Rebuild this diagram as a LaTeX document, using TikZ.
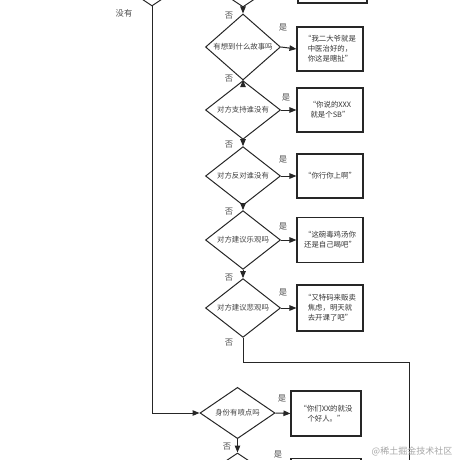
\documentclass[tikz,border=0pt]{standalone}
\usepackage{fontspec}
\setmainfont{Noto Sans CJK SC}
\usetikzlibrary{shapes.geometric,arrows.meta}
\begin{document}
\begin{tikzpicture}[x=1pt,y=-1pt,
  dec/.style={draw=black!85, line width=1pt, shape=diamond, minimum width=75pt, minimum height=50pt, inner sep=0pt, text=black!75, font=\fontsize{7.4}{9}\selectfont},
  outbox/.style={draw=black!85, line width=1.1pt, minimum width=66pt, minimum height=44pt, inner sep=1pt, align=center, text=black!80, font=\fontsize{7.4}{10}\selectfont},
  conn/.style={draw=black!85, line width=1pt},
  arr/.style={conn, -{Triangle[length=7pt,width=5.5pt]}},
  lbl/.style={text=black!70, font=\fontsize{8.3}{9}\selectfont, inner sep=0pt},
  wm/.style={text=black!35, font=\fontsize{9}{10}\selectfont, inner sep=0pt}]
\useasboundingbox (0,0) rectangle (460,460);
\clip (0,0) rectangle (460,460);

% decisions
\node[dec] (DL) at (152,-19) {};
\node[dec] (D0) at (243,-18) {};
\node[dec] (D1) at (243,47) {有想到什么故事吗};
\node[dec] (D2) at (243,110) {对方支持谁没有};
\node[dec] (D3) at (243,176) {对方反对谁没有};
\node[dec] (D4) at (243,240) {对方建议乐观吗};
\node[dec] (D5) at (243,308) {对方建议悲观吗};
\node[dec] (D6) at (237.5,413) {身份有喷点吗};
\node[dec] (D7) at (237.5,478) {};

% outputs
\node[outbox, minimum width=69pt] (B0) at (332.5,-19) {};
\node[outbox] (B1) at (330,49) {“我二大爷就是\\中医治好的，\\你这是瞎扯”};
\node[outbox] (B2) at (330,110) {“你说的XXX\\就是个SB”};
\node[outbox] (B3) at (330,176) {“你行你上啊”};
\node[outbox, minimum height=45pt] (B4) at (330,240) {“这碗毒鸡汤你\\还是自己喝吧”};
\node[outbox, minimum height=46pt] (B5) at (330,308) {“又特码来贩卖\\焦虑，明天就\\去开课了吧”};
\node[outbox, minimum width=70pt, minimum height=45pt] (B6) at (326,413.5) {“你们XX的就没\\个好人。”};
\node[outbox, minimum width=70pt, minimum height=45pt] (B7) at (326,481) {};

% yes arrows
\foreach \i in {1,...,7} {\draw[arr] (D\i.east) -- (B\i.west);}
% no arrows
\draw[arr] (D0.south) -- (D1.north);
\draw[arr] (D1.south) -- (D2.north);
\draw[arr] (D2.south) -- (D3.north);
\draw[arr] (D3.south) -- (D4.north);
\draw[arr] (D4.south) -- (D5.north);
\draw[arr] (D6.south) -- (D7.north);
\coordinate (cR) at (409,362);
\coordinate (cEnd) at (409,470);
\draw[conn] (D5.south) |- (cR) -- (cEnd);
\draw[arr] (DL.south) |- (D6.west);

% labels
\node[lbl] (lNo0) at (124,13) {没有};
\node[lbl] (n0) at (229,16) {否};
\node[lbl] (n1) at (229,79) {否};
\node[lbl] (n2) at (229,145) {否};
\node[lbl] (n3) at (229,212) {否};
\node[lbl] (n4) at (229,278) {否};
\node[lbl] (n5) at (229,343) {否};
\node[lbl] (n6) at (227,447) {否};
\node[lbl] (y1) at (283,28) {是};
\node[lbl] (y2) at (286,98) {是};
\node[lbl] (y3) at (283,160) {是};
\node[lbl] (y4) at (283,227) {是};
\node[lbl] (y5) at (283,293) {是};
\node[lbl] (y6) at (282,399) {是};
\node[lbl] (y7) at (278,455) {是};

\node[wm] (wmk) at (412,451) {@稀土掘金技术社区};
\end{tikzpicture}
\end{document}
